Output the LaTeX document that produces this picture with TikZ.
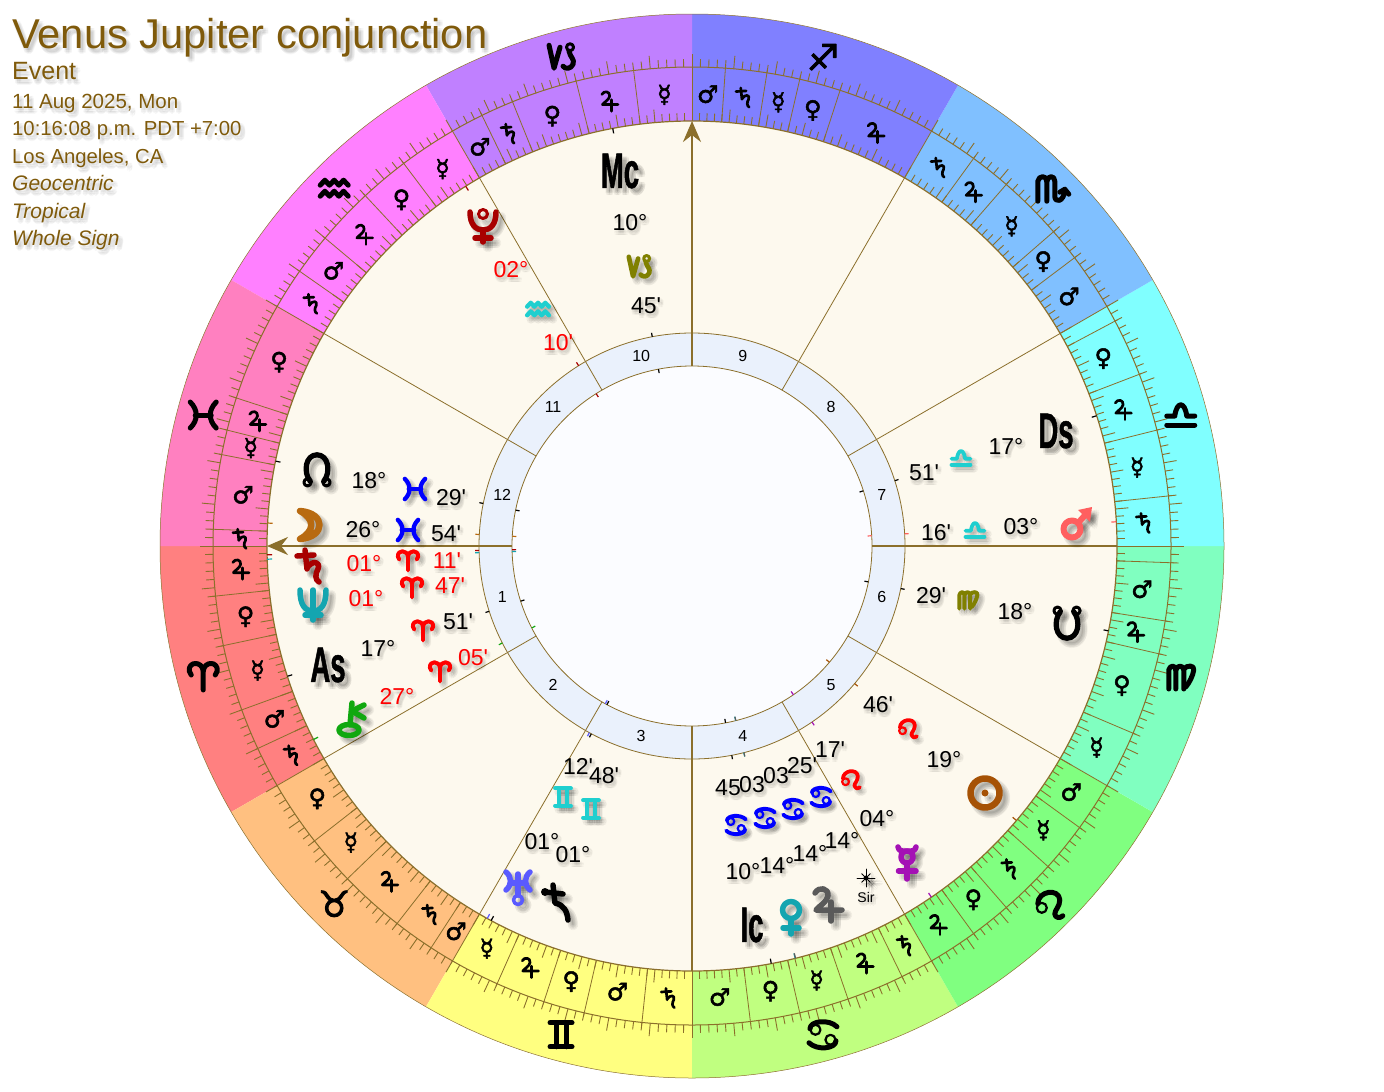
\documentclass[tikz,border=0pt]{standalone}
\usepackage{fontspec}
\usetikzlibrary{arrows.meta}
\newfontfamily\lblfont{Liberation Sans}
\newfontfamily\astrofont[FakeBold=2]{DejaVu Sans}
\newfontfamily\heavyfont[FakeBold=2.5]{DejaVu Sans}
\newfontfamily\anglefont[FakeStretch=0.55,FakeBold=1]{Liberation Sans Bold}
\newcommand{\fsz}[1]{\fontsize{#1}{#1}\selectfont}
\definecolor{linec}{HTML}{8B6F2B}
\definecolor{titlec}{HTML}{7F5A0B}
\definecolor{creamc}{HTML}{FDF9EE}
\definecolor{housec}{HTML}{EAF1FC}
\definecolor{innerc}{HTML}{FBFCFF}
\definecolor{tealc}{HTML}{14A5B0}
\definecolor{cyanc}{HTML}{1FCFCF}
\definecolor{olivec}{HTML}{808000}
\definecolor{darkredc}{HTML}{A80000}
\definecolor{sunc}{HTML}{A65205}
\definecolor{moonc}{HTML}{B86A10}
\definecolor{mercc}{HTML}{A411B5}
\definecolor{marsc}{HTML}{FF5F5F}
\definecolor{jupc}{HTML}{5A5A5A}
\definecolor{uranc}{HTML}{5A5AFF}
\definecolor{chirc}{HTML}{10A810}
\definecolor{signa}{HTML}{FF8080}
\definecolor{signb}{HTML}{FFC080}
\definecolor{signc}{HTML}{FFFF80}
\definecolor{signd}{HTML}{C0FF80}
\definecolor{signe}{HTML}{80FF80}
\definecolor{signf}{HTML}{80FFC0}
\definecolor{signg}{HTML}{80FFFF}
\definecolor{signh}{HTML}{80C0FF}
\definecolor{signi}{HTML}{8080FF}
\definecolor{signj}{HTML}{C080FF}
\definecolor{signk}{HTML}{FF80FF}
\definecolor{signl}{HTML}{FF80C0}
\tikzset{
  shadowtext/.style={text=black,opacity=.035,inner sep=0pt},
  plain/.style={inner sep=0pt},
  thinline/.style={linec,line width=.8pt},
  axisline/.style={linec,line width=2.4pt},
  titletext/.style={plain,anchor=base west,text=titlec},
  glyphstyle/.style={line cap=round,line join=round},
  termglyph/.style={glyphstyle,black,scale=.6,line width=2.7pt},
  % planets, size 36 or so at scale 1
  jupglyph/.pic={
    \draw (-13,-12) .. controls (-9,-19) and (1,-17) .. (0,-9) .. controls (-1,-3) and (-9,1) .. (-12,5) -- (14,5);
    \draw (3,-3) -- (3,16);
  },
  satglyph/.pic={
    \draw (-4,-15) -- (-2,4);
    \draw (-12,-9) -- (5,-10);
    \draw (-2,3) .. controls (3,-5) and (12,-4) .. (9,4) .. controls (6,9) and (6,15) .. (10,17);
  },
  nepglyph/.pic={
    \draw (-13,-13) .. controls (-13,2) and (-8,8) .. (0,8) .. controls (8,8) and (13,2) .. (13,-13);
    \draw (0,-13) -- (0,17);
    \draw (-8,12) -- (8,12);
  },
  uraglyph/.pic={
    \draw (-12,-15) .. controls (-6,-10) and (-6,-2) .. (-12,3);
    \draw (12,-15) .. controls (6,-10) and (6,-2) .. (12,3);
    \draw (0,-13) -- (0,8);
    \draw (-6,-4) -- (6,-4);
    \draw[line width=3.5pt] (0,13) circle (4.5);
  },
  pluglyph/.pic={
    \draw (-13,-13) .. controls (-13,0) and (-7,5) .. (0,5) .. controls (7,5) and (13,0) .. (13,-13);
    \draw[line width=3pt] (0,-11) circle (4.5);
    \draw (0,5) -- (0,17);
    \draw (-8,13) -- (8,13);
  },
  chiglyph/.pic={
    \draw (-1,12) ellipse (10 and 5.5);
    \draw (2,-15) -- (0,7);
    \draw (14,-13) -- (2,-7) -- (14,0);
  },
  moonglyph/.pic={
    \draw[line width=6.5pt] (-10,-14) .. controls (16,-12) and (16,12) .. (-10,14) .. controls (5,6) and (5,-6) .. cycle;
  },
  sunglyph/.pic={
    \draw[line width=6.5pt] (0,0) circle (14.5);
    \fill (0,0) circle (3.5);
  },
  nnodeglyph/.pic={
    \draw (-7,12) .. controls (-15,2) and (-12,-16) .. (0,-16) .. controls (12,-16) and (15,2) .. (7,12);
    \draw[line width=3pt] (-10,13) circle (3.8);
    \draw[line width=3pt] (10,13) circle (3.8);
  },
  snodeglyph/.pic={
    \draw (-7,-12) .. controls (-15,-2) and (-12,16) .. (0,16) .. controls (12,16) and (15,-2) .. (7,-12);
    \draw[line width=3pt] (-10,-13) circle (3.8);
    \draw[line width=3pt] (10,-13) circle (3.8);
  },
  mercglyph/.pic={
    \draw (-9,-15) .. controls (-8,-10) and (-4,-11) .. (0,-11) .. controls (4,-11) and (8,-10) .. (9,-15);
    \draw (0,-5) circle (6);
    \draw (0,1) -- (0,17);
    \draw (-8.5,9) -- (9,9);
  },
  venglyph/.pic={
    \draw (0,-7) circle (8.5);
    \draw (0,2) -- (0,17);
    \draw (-8,11) -- (8,11);
  },
  marsglyph/.pic={
    \draw[line width=6pt] (-3,4) circle (8.5);
    \draw[line width=6pt] (3,-2) -- (12,-12);
    \fill (3,-15) -- (17,-18) -- (15,-3) -- cycle;
  },
  lotglyph/.pic={
    \fill (-8,-11) circle (4);
    \draw (-8,-11) -- (10,-9);
    \draw (0,-18) -- (2,0) .. controls (11,2) and (14,8) .. (15,17);
  },
  siriusglyph/.pic={
    \foreach \ray in {0,90,180,270}{\draw[line width=.8pt] (0,0) -- (\ray:9);}
    \foreach \ray in {45,135,225,315}{\draw[line width=.8pt] (0,0) -- (\ray:6);}
    \fill (0,0) circle (2.5);
  },
  % signs
  ariglyph/.pic={
    \draw (0,13) -- (0,-6) .. controls (-1,-16) and (-15,-16) .. (-14,-6) -- (-12,-2);
    \draw (0,-6) .. controls (1,-16) and (15,-16) .. (14,-6) -- (12,-2);
  },
  gemglyph/.pic={
    \draw (-11,-12) -- (11,-12);
    \draw (-11,12) -- (11,12);
    \draw (-5,-12) -- (-5,12);
    \draw (5,-12) -- (5,12);
  },
  cncglyph/.pic={
    \draw (-13,-6) .. controls (-13,-14) and (6,-16) .. (14,-8);
    \draw (13,6) .. controls (13,14) and (-6,16) .. (-14,8);
    \draw[line width=2.2pt] (-7.5,-5) circle (5);
    \draw[line width=2.2pt] (7.5,5) circle (5);
  },
  leoglyph/.pic={
    \draw (-12,0) .. controls (-12,-13) and (9,-16) .. (10,-4) .. controls (10,3) and (5,6) .. (5,10) .. controls (5,14) and (10,15) .. (13,12);
    \draw[line width=2.2pt] (-8,4) circle (5);
  },
  virglyph/.pic={
    \draw (-12,12) -- (-12,-7) .. controls (-11,-12) and (-5,-12) .. (-5,-7) -- (-5,12);
    \draw (-5,-7) .. controls (-4,-12) and (3,-12) .. (3,-7) -- (3,12);
    \draw (3,-8) .. controls (6,-12) and (14,-12) .. (13,-7) .. controls (12,-1) and (9,5) .. (5,10);
  },
  libglyph/.pic={
    \draw (-14,10) -- (14,10);
    \draw (-14,1) -- (-6,1) .. controls (-4,-14) and (4,-14) .. (6,1) -- (14,1);
  },
  scoglyph/.pic={
    \draw (-12,13) -- (-12,-7) .. controls (-11,-13) and (-3,-13) .. (-3,-7) -- (-3,13);
    \draw (-3,-7) .. controls (-2,-13) and (5,-13) .. (5,-7) -- (5,8) .. controls (5,15) and (14,14) .. (15,2);
    \draw (10,4) -- (15,1) -- (19,6);
  },
  capglyph/.pic={
    \draw (-12,-12) -- (-7,11) -- (-1,-10);
    \draw (8,-6) .. controls (9,0) and (14,2) .. (12,7) .. controls (10,12) and (4,12) .. (2,9);
    \draw[line width=3pt] (9,-10) circle (3.5);
  },
  aquglyph/.pic={
    \draw (-14,-3) -- (-9.3,-8) -- (-4.7,-3) -- (0,-8) -- (4.7,-3) -- (9.3,-8) -- (14,-3);
    \draw (-14,8) -- (-9.3,3) -- (-4.7,8) -- (0,3) -- (4.7,8) -- (9.3,3) -- (14,8);
  },
  pisglyph/.pic={
    \draw (-13,-13) .. controls (-5,-5) and (-5,5) .. (-13,13);
    \draw (13,-13) .. controls (5,-5) and (5,5) .. (13,13);
    \draw (-8,0) -- (8,0);
  },
  % the rest stay font glyphs
  termven/.pic={\node[plain,font=\astrofont\fsz{24}] {♀};},
  termmer/.pic={\node[plain,font=\astrofont\fsz{24}] {☿};},
  termmar/.pic={\node[plain,font=\astrofont\fsz{24}] {♂};},
  nosym/.pic={},
  tauglyph/.pic={\node[plain,font=\heavyfont\fsz{36}] {♉};},
  sagglyph/.pic={\node[plain,font=\heavyfont\fsz{36}] {♐};},
}
% offset x, offset y, name, x, y, colour, font, text
\newcommand{\shnode}[8]{
  \foreach \dx/\dy in {0/0,2/0,-2/0,0/2,0/-2,1.4/1.4,-1.4/1.4,1.4/-1.4,-1.4/-1.4}{
    \node[shadowtext,font=#7] at (#4+#1+\dx,#5+#2+\dy) {#8};
  }
  \node[plain,text=#6,font=#7] (#3) at (#4,#5) {#8};
}
% name, x, y, colour, pic, scale
\newcommand{\drawnsym}[6]{
  \foreach \dx/\dy in {0/0,2.5/0,-2.5/0,0/2.5,0/-2.5,1.8/1.8,-1.8/1.8,1.8/-1.8,-1.8/-1.8}{
    \pic[glyphstyle,black,opacity=.04,scale=#6,line width=#6*5.5pt] at (#2+5*#6+\dx,#3+5*#6+\dy) {#5};
  }
  \pic[glyphstyle,#4,scale=#6,line width=#6*5.5pt] (#1) at (#2,#3) {#5};
}
\newcommand{\lbl}[5]{\shnode{2}{3}{#1}{#2}{#3}{#4}{\lblfont\fsz{23}}{#5}}
\newcommand{\anglemark}[4]{\shnode{5}{5}{#1}{#2}{#3}{black}{\anglefont\fsz{50}}{#4}}
\begin{document}
\begin{tikzpicture}[x=1pt,y=-1pt]
  \useasboundingbox (0,0) rectangle (1384,1092);

  \begin{scope}[shift={(692,546)}]
    % sign sectors
    \foreach \c [count=\k from 0, evaluate=\k as \a using 180-30*\k] in {signa,signb,signc,signd,signe,signf,signg,signh,signi,signj,signk,signl}{
      \fill[\c] (\a:532) arc[start angle=\a,delta angle=-30,radius=532] -- (\a-30:425) arc[start angle=\a-30,delta angle=30,radius=425] -- cycle;
    }
    % degree ticks
    \foreach \d in {0,...,359}{
      \pgfmathsetmacro\tl{mod(\d,5)==0 ? 13 : 8}
      \draw[linec,line width=.9pt] (\d:479) -- (\d:479+\tl);
      \draw[linec,line width=.9pt] (\d:425) -- (\d:425+\tl);
    }
    \fill[creamc] (0,0) circle (425);
    \fill[housec] (0,0) circle (213);
    \fill[innerc] (0,0) circle (180);
    \draw[thinline,line width=.5pt] (0,0) circle (532);
    \draw[thinline,line width=1pt] (0,0) circle (479);
    \draw[thinline,line width=1.2pt] (0,0) circle (425);
    \draw[thinline] (0,0) circle (213);
    \draw[thinline] (0,0) circle (180);

    % term lines and their rulers
    \foreach \from/\to/\g in {0/6/jupglyph,6/12/termven,12/20/termmer,20/25/termmar,25/30/satglyph,
      30/38/termven,38/44/termmer,44/52/jupglyph,52/57/satglyph,57/60/termmar,
      60/66/termmer,66/72/jupglyph,72/77/termven,77/84/termmar,84/90/satglyph,
      90/97/termmar,97/103/termven,103/109/termmer,109/116/jupglyph,116/120/satglyph,
      120/126/jupglyph,126/131/termven,131/138/satglyph,138/144/termmer,144/150/termmar,
      150/157/termmer,157/167/termven,167/171/jupglyph,171/178/termmar,178/180/nosym,
      180/186/satglyph,186/194/termmer,194/201/jupglyph,201/208/termven,208/210/nosym,
      210/217/termmar,217/221/termven,221/229/termmer,229/234/jupglyph,234/240/satglyph,
      240/252/jupglyph,252/257/termven,257/261/termmer,261/266/satglyph,266/270/termmar,
      270/277/termmer,277/284/jupglyph,284/292/termven,292/296/satglyph,296/300/termmar,
      300/307/termmer,307/313/termven,313/320/jupglyph,320/325/termmar,325/330/satglyph,
      330/342/termven,342/346/jupglyph,346/349/termmer,349/358/termmar,358/360/satglyph}{
      \pgfmathsetmacro\a{180-\from}
      \pgfmathsetmacro\m{180-(\from+\to)/2}
      \draw[thinline] (\a:425) -- (\a:482);
      \pic[termglyph] at (\m:452) {\g};
    }

    % house cusps
    \foreach \a in {30,60,120,150,210,240,300,330}{
      \draw[thinline] (\a:180) -- (\a:425);
    }
    \coordinate (ascin) at (180:180);
    \coordinate (ascout) at (180:425);
    \coordinate (mcin) at (-90:180);
    \coordinate (mcout) at (-90:425);
    \coordinate (dsin) at (0:180);
    \coordinate (dsout) at (0:425);
    \coordinate (icin) at (90:180);
    \coordinate (icout) at (90:425);
    \draw[axisline,-{Stealth[length=21pt,width=18pt,inset=7pt]}] (ascin) -- (ascout);
    \draw[axisline,-{Stealth[length=21pt,width=18pt,inset=7pt]}] (mcin) -- (mcout);
    \draw[axisline] (dsin) -- (dsout);
    \draw[axisline] (icin) -- (icout);

    % body ticks
    \foreach \l/\c [evaluate=\l as \a using 180-\l] in {139.77/sunc,356.9/moonc,124.28/mercc,104.05/tealc,104.1/jupc,183.27/marsc,1.18/darkredc,61.2/uranc,1.78/tealc,302.17/darkredc,27.08/chirc,348.48/black,168.48/black,17.85/black,197.85/black,280.75/black,100.75/black,61.8/black}{
      \draw[\c,line width=1.2pt] (\a:425) -- (\a:420);
      \draw[\c,line width=1.2pt] (\a:213) -- (\a:217);
      \draw[\c,line width=1.2pt] (\a:180) -- (\a:176);
    }

    % house numbers
    \foreach \n [evaluate=\n as \a using 195-30*\n] in {1,...,12}{
      \node[plain,font=\lblfont\fsz{16}] (house\n) at (\a:196.5) {\n};
    }

    % sign glyphs
    \foreach \g [count=\k from 0, evaluate=\k as \a using 165-30*\k] in {ariglyph,tauglyph,gemglyph,cncglyph,leoglyph,virglyph,libglyph,scoglyph,sagglyph,capglyph,aquglyph,pisglyph}{
      \pic[glyphstyle,black,line width=5pt] (sign\k) at (\a:506) {\g};
    }
  \end{scope}

  % heading
  \foreach \t/\yy/\f in {Venus Jupiter conjunction/48/\lblfont\fsz{41.7},Event/79/\lblfont\fsz{25},11 Aug 2025{,} Mon/108/\lblfont\fsz{20.5},10:16:08 p.m. PDT +7:00/135/\lblfont\fsz{20.3},Los Angeles{,} CA/163/\lblfont\fsz{20.3},Geocentric/190/\lblfont\itshape\fsz{21},Tropical/218/\lblfont\itshape\fsz{21},Whole Sign/245/\lblfont\itshape\fsz{21}}{
    \foreach \dx/\dy in {0/0,2/0,-2/0,0/2,0/-2,1.4/1.4,-1.4/1.4,1.4/-1.4,-1.4/-1.4}{
      \node[titletext,text=black,opacity=.03,font=\f] at (12+3+\dx,\yy+4+\dy) {\t};
    }
    \node[titletext,font=\f] at (12,\yy) {\t};
  }

  % left column
  \drawnsym{nnode}{317}{470}{black}{nnodeglyph}{.95}
  \lbl{nnodedeg}{369}{481}{black}{18°}
  \drawnsym{nnodesign}{415}{489}{blue}{pisglyph}{.78}
  \lbl{nnodemin}{451}{498}{black}{29'}
  \drawnsym{moon}{310}{525}{moonc}{moonglyph}{1}
  \lbl{moondeg}{363}{530}{black}{26°}
  \drawnsym{moonsign}{408}{530}{blue}{pisglyph}{.78}
  \lbl{moonmin}{446}{534}{black}{54'}
  \drawnsym{saturn}{309}{565}{darkredc}{satglyph}{1}
  \lbl{saturndeg}{364}{564}{red}{01°}
  \drawnsym{saturnsign}{408}{561}{red}{ariglyph}{.72}
  \lbl{saturnmin}{447}{561}{red}{11'}
  \drawnsym{neptune}{313}{603}{tealc}{nepglyph}{1}
  \lbl{neptunedeg}{366}{599}{red}{01°}
  \drawnsym{neptunesign}{412}{588}{red}{ariglyph}{.72}
  \lbl{neptunemin}{450}{586}{red}{47'}
  \anglemark{asc}{328}{665}{As}
  \lbl{ascdeg}{378}{648}{black}{17°}
  \drawnsym{ascsign}{423}{631}{red}{ariglyph}{.72}
  \lbl{ascmin}{458}{622}{black}{51'}
  \drawnsym{chiron}{350}{718}{chirc}{chiglyph}{1}
  \lbl{chirondeg}{397}{696}{red}{27°}
  \drawnsym{chironsign}{440}{672}{red}{ariglyph}{.72}
  \lbl{chironmin}{473}{658}{red}{05'}

  % top
  \drawnsym{pluto}{483}{225}{darkredc}{pluglyph}{1}
  \lbl{plutodeg}{511}{270}{red}{02°}
  \drawnsym{plutosign}{538}{309}{cyanc}{aquglyph}{.78}
  \lbl{plutomin}{558}{343}{red}{10'}
  \anglemark{mc}{620}{171}{Mc}
  \lbl{mcdeg}{630}{223}{black}{10°}
  \drawnsym{mcsign}{639}{267}{olivec}{capglyph}{.85}
  \lbl{mcmin}{646}{306}{black}{45'}

  % right column
  \anglemark{ds}{1056}{431}{Ds}
  \lbl{dsdeg}{1006}{446}{black}{17°}
  \drawnsym{dssign}{961}{458}{cyanc}{libglyph}{.68}
  \lbl{dsmin}{924}{473}{black}{51'}
  \drawnsym{mars}{1075}{525}{marsc}{marsglyph}{1}
  \lbl{marsdeg}{1021}{527}{black}{03°}
  \drawnsym{marssign}{975}{530}{cyanc}{libglyph}{.68}
  \lbl{marsmin}{936}{533}{black}{16'}
  \drawnsym{snode}{1067}{623}{black}{snodeglyph}{.95}
  \lbl{snodedeg}{1015}{612}{black}{18°}
  \drawnsym{snodesign}{968}{600}{olivec}{virglyph}{.72}
  \lbl{snodemin}{931}{596}{black}{29'}
  \drawnsym{sun}{985}{793}{sunc}{sunglyph}{1}
  \lbl{sundeg}{944}{760}{black}{19°}
  \drawnsym{sunsign}{908}{728}{red}{leoglyph}{.68}
  \lbl{sunmin}{878}{705}{black}{46'}
  \drawnsym{mercury}{907}{862}{mercc}{mercglyph}{1}
  \lbl{mercurydeg}{877}{819}{black}{04°}
  \drawnsym{mercurysign}{851}{779}{red}{leoglyph}{.68}
  \lbl{mercurymin}{830}{750}{black}{17'}

  % bottom
  \drawnsym{sirius}{866}{878}{black}{siriusglyph}{1}
  \shnode{2}{2}{sirlabel}{866}{897}{black}{\lblfont\fsz{14}}{Sir}
  \lbl{siriusdeg}{842}{840}{black}{14°}
  \drawnsym{siriussign}{821}{797}{blue}{cncglyph}{.7}
  \lbl{siriusmin}{802}{766}{black}{25'}
  \drawnsym{jupiter}{828}{905}{jupc}{jupglyph}{1}
  \lbl{jupiterdeg}{810}{853}{black}{14°}
  \drawnsym{jupitersign}{793}{809}{blue}{cncglyph}{.7}
  \lbl{jupitermin}{776}{776}{black}{03}
  \drawnsym{venus}{791}{917}{tealc}{venglyph}{1}
  \lbl{venusdeg}{777}{865}{black}{14°}
  \drawnsym{venussign}{765}{818}{blue}{cncglyph}{.7}
  \lbl{venusmin}{752}{785}{black}{03}
  \anglemark{ic}{752}{925}{Ic}
  \lbl{icdeg}{743}{872}{black}{10°}
  \drawnsym{icsign}{736}{825}{blue}{cncglyph}{.7}
  \lbl{icmin}{728}{788}{black}{45}
  \drawnsym{uranus}{518}{887}{uranc}{uraglyph}{1}
  \lbl{uranusdeg}{542}{842}{black}{01°}
  \drawnsym{uranussign}{563}{797}{cyanc}{gemglyph}{.72}
  \lbl{uranusmin}{578}{766}{black}{12'}
  \drawnsym{lot}{553}{903}{black}{lotglyph}{1}
  \lbl{lotdeg}{573}{855}{black}{01°}
  \drawnsym{lotsign}{591}{809}{cyanc}{gemglyph}{.72}
  \lbl{lotmin}{604}{776}{black}{48'}
\end{tikzpicture}
\end{document}
